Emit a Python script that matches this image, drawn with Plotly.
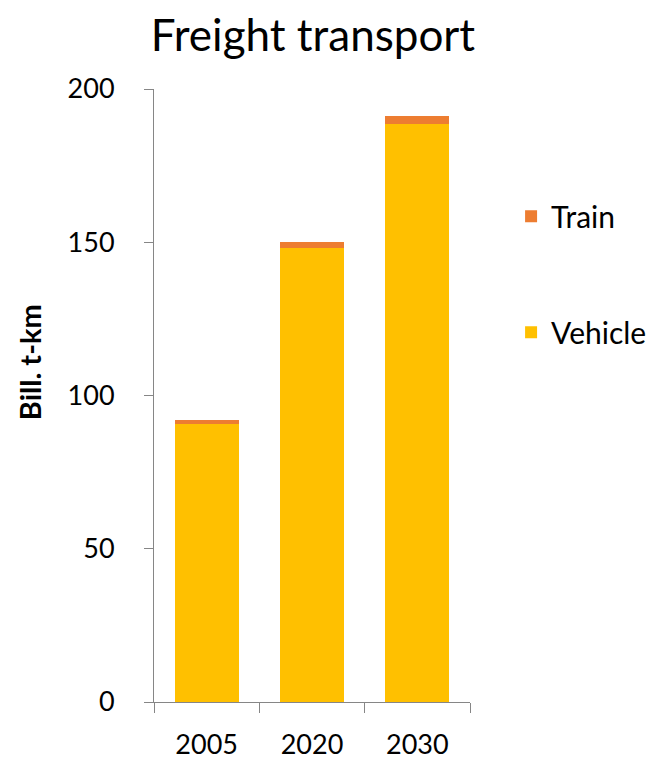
import plotly.graph_objects as go

years = ["2005", "2020", "2030"]
vehicle = [90.8, 148.1, 188.7]
train = [1.3, 1.9, 2.5]
y_ticks = [0, 50, 100, 150, 200]

FONT = "Lato"
axis_color = "#868686"

fig = go.Figure()
fig.add_trace(go.Bar(x=years, y=vehicle, name="Vehicle", marker_color="#FFC000",
                     legendgroup="v", legendrank=2, marker_line_width=0))
fig.add_trace(go.Bar(x=years, y=train, name="Train", marker_color="#ED7D31",
                     legendgroup="t", legendrank=1, marker_line_width=0))

fig.update_layout(
    barmode="stack",
    bargap=0.39,
    width=652, height=760,
    paper_bgcolor="white", plot_bgcolor="white",
    margin=dict(l=154, r=182, t=89, b=58, autoexpand=False),
    font=dict(family=FONT, color="black"),
    title=dict(text="Freight transport", x=0.48, xanchor="center", y=0.953, yanchor="middle",
               font=dict(size=44, family=FONT, color="black")),
    legend=dict(x=1.13, y=0.835, xanchor="left", yanchor="top",
                traceorder="grouped", tracegroupgap=74,
                font=dict(size=30, family=FONT), bgcolor="rgba(0,0,0,0)"),
    showlegend=True,
    annotations=[dict(text="<b>Bill. t-km</b>", textangle=-90, xref="paper", yref="paper",
                      x=-0.395, y=(702 - 362) / 613, xanchor="center", yanchor="middle",
                      showarrow=False, font=dict(size=29, family=FONT, color="black"))],
)
fig.update_xaxes(
    type="category", showline=True, linecolor=axis_color, linewidth=1,
    ticks="outside", tickson="boundaries", ticklen=10, tickcolor=axis_color,
    tickfont=dict(size=27, family=FONT), showgrid=False, ticklabelstandoff=19,
    automargin=False,
)
fig.update_yaxes(
    range=[0, 200], tickvals=y_ticks, showline=True, linecolor=axis_color, linewidth=1,
    ticks="outside", ticklen=9, tickcolor=axis_color, showgrid=False, zeroline=False,
    tickfont=dict(size=27, family=FONT), ticklabelstandoff=24, automargin=False,
)

fig.write_html("out.html")
